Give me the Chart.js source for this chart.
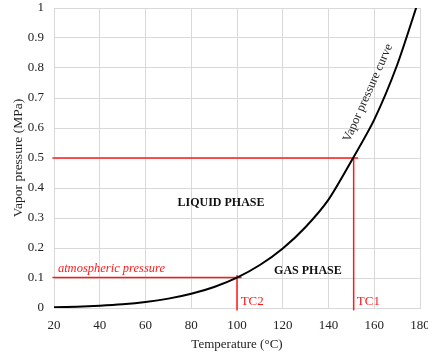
<!DOCTYPE html>
<html>
<head>
<meta charset="utf-8">
<script src="https://cdn.jsdelivr.net/npm/chart.js@4.4.0/dist/chart.umd.min.js"></script>
<style>
  html, body { margin: 0; padding: 0; background: #fff; }
  #wrap { width: 428px; height: 356px; }
</style>
</head>
<body>
<div id="wrap"><canvas id="vaporChart" width="428" height="356"></canvas></div>
<script>
// saturation curve of water, temperature in °C, pressure in MPa
const temperatures = [20, 30, 40, 50, 60, 70, 80, 90, 100, 110, 120, 130, 140, 150, 160, 170, 180];
const pressures = [0.0023, 0.0042, 0.0074, 0.0123, 0.0199, 0.0312, 0.0474, 0.0701, 0.1013, 0.1433, 0.1985, 0.2701, 0.3613, 0.49, 0.628, 0.81, 1.04];

// red guide lines: atmospheric pressure / TC2 and 0.5 MPa / TC1
const atmLineX = [19.3, 102];
const atmLineY = [0.1013, 0.1013];
const tc2LineX = [100, 100];
const tc2LineY = [-0.008, 0.11];
const halfLineX = [19.3, 153];
const halfLineY = [0.5, 0.5];
const tc1LineX = [151, 151];
const tc1LineY = [-0.008, 0.5];

const xTicks = [20, 40, 60, 80, 100, 120, 140, 160, 180];
const yTicks = [0, 0.1, 0.2, 0.3, 0.4, 0.5, 0.6, 0.7, 0.8, 0.9, 1];

const RED = '#ff1a1a';
const SERIF = '"Liberation Serif", "Times New Roman", serif';

function toPoints(xs, ys) {
    return xs.map((x, i) => ({ x: x, y: ys[i] }));
}

function guide(xs, ys) {
    return {
        data: toPoints(xs, ys),
        borderColor: RED,
        borderWidth: 1.5,
        pointRadius: 0,
        fill: false,
        clip: false,
        tension: 0
    };
}

// text labels placed in data coordinates
const notes = [
    { text: 'LIQUID PHASE', x: 93, y: 0.35, font: 'bold 12px', color: '#111', align: 'center' },
    { text: 'GAS PHASE', x: 131, y: 0.123, font: 'bold 12px', color: '#111', align: 'center' },
    { text: 'atmospheric pressure', x: 21.7, y: 0.13, font: 'italic 12.5px', color: RED, align: 'left' },
    { text: 'TC2', x: 101.6, y: 0.023, font: '13px', color: RED, align: 'left' },
    { text: 'TC1', x: 152.4, y: 0.023, font: '13px', color: RED, align: 'left' },
    { text: 'Vapor pressure curve', x: 157.3, y: 0.717, font: '12.5px', color: '#222', align: 'center', angle: -66 }
];

const notesPlugin = {
    id: 'notes',
    afterDatasetsDraw(chart) {
        const ctx = chart.ctx;
        const xs = chart.scales.x;
        const ys = chart.scales.y;
        notes.forEach(n => {
            ctx.save();
            ctx.translate(xs.getPixelForValue(n.x), ys.getPixelForValue(n.y));
            if (n.angle) ctx.rotate(n.angle * Math.PI / 180);
            ctx.font = n.font + ' ' + SERIF;
            ctx.fillStyle = n.color;
            ctx.textAlign = n.align;
            ctx.textBaseline = 'middle';
            ctx.fillText(n.text, 0, 0);
            ctx.restore();
        });
    }
};

const ctx = document.getElementById('vaporChart').getContext('2d');

new Chart(ctx, {
    type: 'line',
    data: {
        datasets: [
            {
                data: toPoints(temperatures, pressures),
                borderColor: '#000',
                borderWidth: 2,
                pointRadius: 0,
                fill: false,
                tension: 0.25
            },
            guide(atmLineX, atmLineY),
            guide(tc2LineX, tc2LineY),
            guide(halfLineX, halfLineY),
            guide(tc1LineX, tc1LineY)
        ]
    },
    options: {
        responsive: false,
        animation: false,
        layout: { padding: { top: 8, right: 8, bottom: 0, left: 0 } },
        plugins: {
            legend: { display: false },
            tooltip: { enabled: false }
        },
        scales: {
            x: {
                type: 'linear',
                min: 20,
                max: 180,
                afterBuildTicks: s => { s.ticks = xTicks.map(v => ({ value: v })); },
                afterFit: s => { s.height = 48; s.paddingLeft = 0; s.paddingRight = 0; },
                grid: { color: '#d9d9d9', lineWidth: 1, drawTicks: false },
                border: { color: '#d9d9d9' },
                ticks: {
                    color: '#222',
                    padding: 10,
                    maxRotation: 0,
                    font: { family: SERIF, size: 13 }
                },
                title: {
                    display: true,
                    text: 'Temperature (°C)',
                    color: '#222',
                    padding: { top: 4, bottom: 4 },
                    font: { family: SERIF, size: 13 }
                }
            },
            y: {
                min: 0,
                max: 1,
                afterBuildTicks: s => { s.ticks = yTicks.map(v => ({ value: v })); },
                afterFit: s => { s.width = 54; s.paddingTop = 0; s.paddingBottom = 0; },
                grid: { color: '#d9d9d9', lineWidth: 1, drawTicks: false },
                border: { color: '#d9d9d9' },
                ticks: {
                    color: '#222',
                    padding: 10,
                    font: { family: SERIF, size: 13 },
                    callback: v => String(Math.round(v * 10) / 10)
                },
                title: {
                    display: true,
                    text: 'Vapor pressure (MPa)',
                    color: '#222',
                    padding: { top: 10, bottom: 2 },
                    font: { family: SERIF, size: 13.5 }
                }
            }
        }
    },
    plugins: [notesPlugin]
});
</script>
</body>
</html>
